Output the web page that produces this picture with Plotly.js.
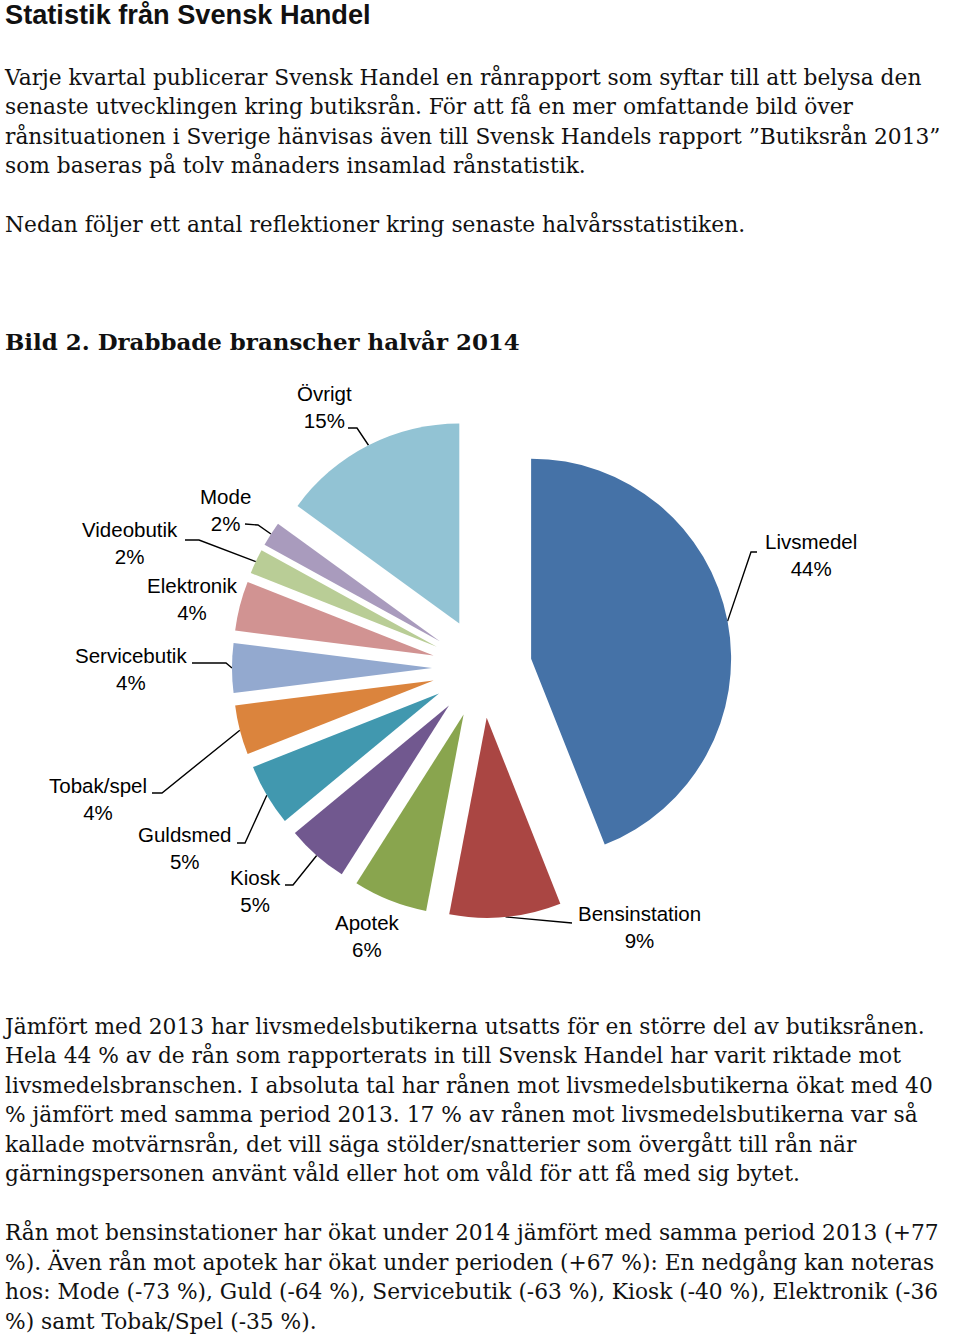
<!DOCTYPE html>
<html>
<head>
<meta charset="utf-8">
<script src="https://cdn.plot.ly/plotly-3.0.1.min.js"></script>
<style>
html, body { margin:0; padding:0; background:#ffffff; }
body { width:960px; height:1337px; position:relative; overflow:hidden; }
#chart { position:absolute; left:0; top:0; width:960px; height:1337px; }
.blk { position:absolute; left:5px; white-space:pre; color:#111111; z-index:2; }
#title { font-family:'Liberation Sans', Arial, sans-serif; font-weight:bold; font-size:27.2px; line-height:30px; top:0px; }
.serif { font-family:'DejaVu Serif', serif; line-height:29.5px; }
#heading { font-family:'DejaVu Serif', serif; font-weight:bold; line-height:30px; top:327px; }
#p1 { top:62.5px; }
#p2 { top:1011.5px; }
</style>
</head>
<body>
<div id="chart"></div>
<div id="title" class="blk">Statistik från Svensk Handel</div>
<div id="p1" class="blk serif">Varje kvartal publicerar Svensk Handel en rånrapport som syftar till att belysa den
senaste utvecklingen kring butiksrån. För att få en mer omfattande bild över
rånsituationen i Sverige hänvisas även till Svensk Handels rapport ”Butiksrån 2013”
som baseras på tolv månaders insamlad rånstatistik.

Nedan följer ett antal reflektioner kring senaste halvårsstatistiken.</div>
<div id="heading" class="blk">Bild 2. Drabbade branscher halvår 2014</div>
<div id="p2" class="blk serif">Jämfört med 2013 har livsmedelsbutikerna utsatts för en större del av butiksrånen.
Hela 44 % av de rån som rapporterats in till Svensk Handel har varit riktade mot
livsmedelsbranschen. I absoluta tal har rånen mot livsmedelsbutikerna ökat med 40
% jämfört med samma period 2013. 17 % av rånen mot livsmedelsbutikerna var så
kallade motvärnsrån, det vill säga stölder/snatterier som övergått till rån när
gärningspersonen använt våld eller hot om våld för att få med sig bytet.

Rån mot bensinstationer har ökat under 2014 jämfört med samma period 2013 (+77
%). Även rån mot apotek har ökat under perioden (+67 %): En nedgång kan noteras
hos: Mode (-73 %), Guld (-64 %), Servicebutik (-63 %), Kiosk (-40 %), Elektronik (-36
%) samt Tobak/Spel (-35 %).</div>
<script>
// ---------- data ----------
const categories = ['Livsmedel', 'Bensinstation', 'Apotek', 'Kiosk', 'Guldsmed', 'Tobak/spel',
                    'Servicebutik', 'Elektronik', 'Videobutik', 'Mode', 'Övrigt'];
const shares = [44, 9, 6, 5, 5, 4, 4, 4, 2, 2, 15];
const sliceColors = ['#4572A7', '#AA4643', '#89A54E', '#71588F', '#4198AF', '#DB843D',
                     '#93A9CF', '#D19392', '#B9CD96', '#A99BBD', '#92C3D4'];

// ---------- layout of labels (page pixels): label centre and leader-line path on the label side ----------
const labelLayout = [
  {x: 811, y: 555, lead: [[757, 552], [751, 552]]},        // Livsmedel
  {x: 639, y: 927, lead: [[572, 923]]},                    // Bensinstation
  {x: 367, y: 936, lead: null},                            // Apotek
  {x: 255, y: 891, lead: [[285, 885], [293, 885]]},        // Kiosk
  {x: 184, y: 848, lead: [[237, 843], [245, 843]]},        // Guldsmed
  {x: 98,  y: 799, lead: [[152, 793], [162, 793]]},        // Tobak/spel
  {x: 131, y: 669, lead: [[192, 663], [226, 663]]},        // Servicebutik
  {x: 192, y: 599, lead: null},                            // Elektronik
  {x: 130, y: 543, lead: [[185, 540], [199, 540]]},        // Videobutik
  {x: 225, y: 510, lead: [[245, 524], [258, 525]]},        // Mode
  {x: 324, y: 407, lead: [[348, 428], [357, 428]]}         // Övrigt
];

// ---------- fit the serif text to the reference line widths ----------
function fitSize(text, family, weight, target) {
  const ctx = document.createElement('canvas').getContext('2d');
  ctx.font = weight + ' 100px ' + family;
  return 100 * target / ctx.measureText(text).width;
}
const bodySize = fitSize('Varje kvartal publicerar Svensk Handel en rånrapport som syftar till att belysa den', "'DejaVu Serif'", 'normal', 917);
document.getElementById('p1').style.fontSize = bodySize + 'px';
document.getElementById('p2').style.fontSize = bodySize + 'px';
const headSize = fitSize('Bild 2. Drabbade branscher halvår 2014', "'DejaVu Serif'", 'bold', 515);
document.getElementById('heading').style.fontSize = headSize + 'px';

// ---------- pie geometry ----------
const W = 960, H = 1337;
const cx = 482, cy = 668, half = 250;   // pie box centre and half-size (px)
const pullFrac = 0.25;
const rPie = half / (1 + pullFrac);

const total = shares.reduce((a, b) => a + b, 0);
let cum = 0;
const anchors = shares.map(v => {
  const mid = (cum + v / 2) / total * 2 * Math.PI;
  cum += v;
  const d = rPie * (1 + pullFrac);
  return [cx + d * Math.sin(mid), cy - d * Math.cos(mid)];
});

const traces = [{
  type: 'pie',
  labels: categories,
  values: shares,
  sort: false,
  direction: 'clockwise',
  rotation: 0,
  pull: shares.map(() => pullFrac),
  marker: {colors: sliceColors, line: {width: 0}},
  textinfo: 'none',
  hoverinfo: 'label+percent',
  showlegend: false,
  domain: {x: [(cx - half) / W, (cx + half) / W], y: [1 - (cy + half) / H, 1 - (cy - half) / H]}
}];

labelLayout.forEach((lab, i) => {
  if (!lab.lead) return;
  const pts = lab.lead.concat([anchors[i]]);
  traces.push({
    type: 'scatter', mode: 'lines',
    x: pts.map(p => p[0]), y: pts.map(p => p[1]),
    line: {color: '#000000', width: 1.4},
    hoverinfo: 'skip', showlegend: false, xaxis: 'x', yaxis: 'y'
  });
});

const annotations = labelLayout.map((lab, i) => ({
  x: lab.x, y: lab.y, xref: 'x', yref: 'y',
  text: categories[i] + '<br>' + shares[i] + '%',
  showarrow: false, xanchor: 'center', yanchor: 'middle', align: 'center',
  font: {family: 'Liberation Sans, Arial, sans-serif', size: 20.5, color: '#000000'}
}));

const layout = {
  width: W, height: H,
  margin: {l: 0, r: 0, t: 0, b: 0, pad: 0},
  paper_bgcolor: '#ffffff', plot_bgcolor: 'rgba(0,0,0,0)',
  showlegend: false,
  xaxis: {range: [0, W], visible: false, fixedrange: true},
  yaxis: {range: [H, 0], visible: false, fixedrange: true},
  annotations: annotations
};

Plotly.newPlot('chart', traces, layout, {displayModeBar: false, staticPlot: true});
</script>
</body>
</html>
